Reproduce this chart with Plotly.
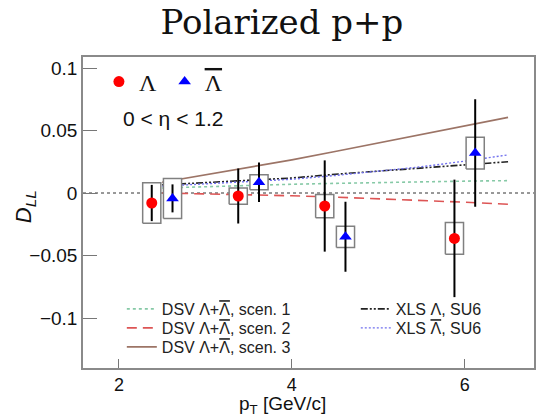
import plotly.graph_objects as go

# Lambda and anti-Lambda D_LL measurements
pt_lam = [2.38, 3.38, 4.38, 5.88]
dll_lam = [-0.0080, -0.0024, -0.0104, -0.0363]
stat_lam = [0.0145, 0.0220, 0.0365, 0.0470]
sys_lam = [0.0162, 0.0065, 0.0093, 0.0127]

pt_alam = [2.62, 3.62, 4.62, 6.12]
dll_alam = [-0.0043, 0.0086, -0.0350, 0.0320]
stat_alam = [0.0112, 0.0158, 0.0280, 0.0430]
sys_alam = [0.0160, 0.0060, 0.0085, 0.0127]

box_halfwidth = 0.105

# Model predictions
pt_model = [2.5, 3.0, 3.5, 4.0, 4.5, 5.0, 5.5, 6.0, 6.5]
dsv_scen1 = [0.0040, 0.0052, 0.0062, 0.0070, 0.0077, 0.0084, 0.0090, 0.0095, 0.0099]
dsv_scen2 = [0.0000, -0.0006, -0.0013, -0.0022, -0.0033, -0.0045, -0.0059, -0.0074, -0.0090]
dsv_scen3 = [0.0086, 0.0145, 0.0204, 0.0265, 0.0332, 0.0399, 0.0465, 0.0535, 0.0605]
xls_lam = [0.0065, 0.0085, 0.0100, 0.0120, 0.0150, 0.0175, 0.0200, 0.0225, 0.0250]
xls_alam = [0.0055, 0.0072, 0.0088, 0.0110, 0.0140, 0.0175, 0.0210, 0.0255, 0.0305]

LAM = "Λ"
ALAM = '<span style="text-decoration:overline">Λ</span>'

W, H = 539, 418
ML, MR, MT, MB = 83, 3, 57, 50
PW, PH = W - ML - MR, H - MT - MB


def px_to_paper(x, y):
    return (x - ML) / PW, (H - MB - y) / PH


fig = go.Figure()

# (values, label, colour, dash, width, legend id, legend text position in px)
models = [
    (dsv_scen1, f"DSV {LAM}+{ALAM}, scen. 1", "#86c9a6", "dot", 1.6, "legend3", (122, 309)),
    (dsv_scen2, f"DSV {LAM}+{ALAM}, scen. 2", "#dd5555", "10px,6px", 1.6, "legend4", (122, 328)),
    (dsv_scen3, f"DSV {LAM}+{ALAM}, scen. 3", "#9c7466", "solid", 1.7, "legend5", (122, 347)),
    (xls_lam, f"XLS {LAM}, SU6", "#222222", "7px,2px,2px,2px,2px,2px", 1.6, "legend6", (357, 309)),
    (xls_alam, f"XLS {ALAM}, SU6", "#7070ee", "2px,2px", 1.4, "legend7", (357, 328)),
]
legends = {}
for ys, name, color, dash, width, leg, pos in models:
    fig.add_trace(go.Scatter(
        x=pt_model, y=ys, mode="lines", name=name, legend=leg,
        line=dict(color=color, dash=dash, width=width),
    ))
    lx, ly = px_to_paper(*pos)
    legends[leg] = dict(x=lx, y=ly, xanchor="left", yanchor="middle",
                        bgcolor="rgba(0,0,0,0)",
                        font=dict(family="Liberation Sans, Arial", size=16, color="#222"))


def box_path(xs, ys, sys):
    px, py = [], []
    for x, y, s in zip(xs, ys, sys):
        px += [x - box_halfwidth, x + box_halfwidth, x + box_halfwidth,
               x - box_halfwidth, x - box_halfwidth, None]
        py += [y - s, y - s, y + s, y + s, y - s, None]
    return px, py


# systematic uncertainty boxes
for xs, ys, ss in [(pt_lam, dll_lam, sys_lam), (pt_alam, dll_alam, sys_alam)]:
    bx, by = box_path(xs, ys, ss)
    fig.add_trace(go.Scatter(
        x=bx, y=by, mode="lines", fill="toself", fillcolor="white",
        line=dict(color="#808080", width=1.5), showlegend=False, hoverinfo="skip",
    ))

fig.add_trace(go.Scatter(
    x=pt_lam, y=dll_lam, mode="markers", name=LAM, legend="legend",
    marker=dict(symbol="circle", size=11, color="#ff0000"),
    error_y=dict(type="data", array=stat_lam, color="black", thickness=2, width=0),
))
fig.add_trace(go.Scatter(
    x=pt_alam, y=dll_alam, mode="markers", name=ALAM, legend="legend2",
    marker=dict(symbol="triangle-up", size=11, color="#0000ff"),
    error_y=dict(type="data", array=stat_alam, color="black", thickness=2, width=0),
))

for leg, pos in [("legend", (99, 82)), ("legend2", (165, 82))]:
    lx, ly = px_to_paper(*pos)
    legends[leg] = dict(x=lx, y=ly, xanchor="left", yanchor="middle",
                        bgcolor="rgba(0,0,0,0)",
                        font=dict(family="Liberation Serif, Times New Roman", size=24, color="#111"))

fig.add_hline(y=0, line=dict(color="#333333", width=1, dash="3px,3px"), layer="below")

axis_common = dict(
    showgrid=False, zeroline=False, showline=True, mirror=True,
    linecolor="#8a8a8a", linewidth=1.5, ticks="inside", tickcolor="#777777",
    tickwidth=1.2, tickfont=dict(family="Liberation Sans, Arial", size=19, color="#111111"),
)

annotations = []
for text, pos, size, angle in [
    ("0 < η < 1.2", (173, 118), 21, 0),
    ("p<sub>T</sub> [GeV/c]", (283, 405), 19, 0),
    ("<i>D<sub>LL</sub></i>", (25, 207), 22, -90),
]:
    ax, ay = px_to_paper(*pos)
    annotations.append(dict(
        text=text, x=ax, y=ay, xref="paper", yref="paper", xanchor="center", yanchor="middle",
        showarrow=False, textangle=angle, borderpad=0,
        font=dict(family="Liberation Sans, Arial", size=size, color="#111"),
    ))

fig.update_layout(
    width=W, height=H,
    margin=dict(l=ML, r=MR, t=MT, b=MB),
    paper_bgcolor="white", plot_bgcolor="white",
    title=dict(text="Polarized p+p", x=0.523, xanchor="center", y=0.947, yanchor="middle",
               font=dict(family="DejaVu Serif", size=34, color="#111111")),
    xaxis=dict(range=[1.585, 6.80], tickvals=[2, 4, 6], ticklen=9, **axis_common),
    yaxis=dict(range=[-0.14, 0.1088], tickvals=[-0.1, -0.05, 0, 0.05, 0.1],
               ticktext=["\u22120.1", "\u22120.05", "0", "0.05", "0.1"],
               ticklen=14, **axis_common),
    annotations=annotations,
    **legends,
)
fig.update_xaxes(tickfont=dict(size=18))

fig.write_html("out.html")
